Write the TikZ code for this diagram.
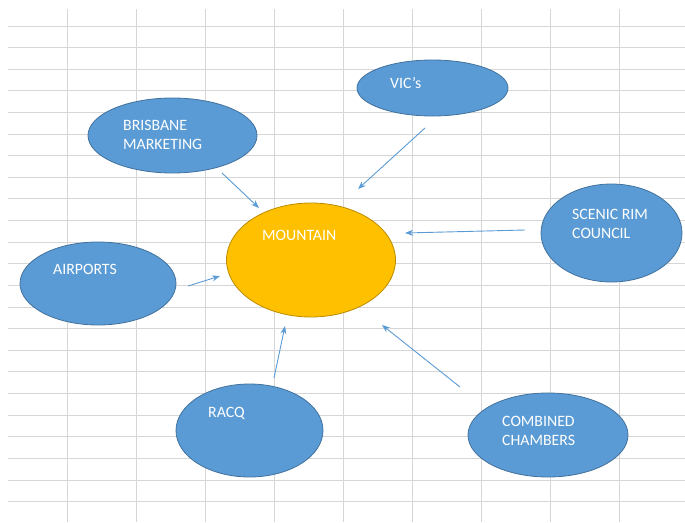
\documentclass[tikz,border=0pt]{standalone}
\usepackage{fontspec}
\setmainfont{Carlito}
\usetikzlibrary{shapes.geometric,arrows.meta}
\definecolor{cellgrid}{HTML}{D6D6D6}
\definecolor{shapeblue}{HTML}{5B9BD5}
\definecolor{shapeedge}{HTML}{41719C}
\definecolor{mtnfill}{HTML}{FFC000}
\definecolor{mtnedge}{HTML}{BC8C00}

\begin{document}
\begin{tikzpicture}[x=1pt, y=-1pt]

% Styles
\tikzset{
    bubble/.style={ellipse, draw=shapeedge, fill=shapeblue, line width=0.8pt, inner sep=0pt},
    hub/.style={bubble, draw=mtnedge, fill=mtnfill},
    tag/.style={anchor=base west, text=white, align=left, inner sep=0pt, font=\fontsize{15.8}{19}\selectfont},
    flow/.style={-{Stealth[length=8pt,width=6pt]}, shapeblue, line width=0.9pt}
}

\useasboundingbox (0,0) rectangle (685,522);

% Sheet grid
\foreach \k in {0,...,22} {
    \draw[cellgrid, line width=1pt] (8,{26+21.62*\k}) -- (685,{26+21.62*\k});
}
\foreach \k in {0,...,8} {
    \draw[cellgrid, line width=1pt] ({67+69*\k},9) -- ({67+69*\k},522);
}

% Centre
\node[hub, minimum width=169pt, minimum height=114pt] (mtn) at (311,260) {};
\node[tag] (mtnT) at (262,240) {MOUNTAIN};

% Partners
\node[bubble, minimum width=169pt, minimum height=75pt] (bm) at (172.5,135.5) {};
\node[tag] (bmT) at (123,149) {BRISBANE\\MARKETING};

\node[bubble, minimum width=151pt, minimum height=56pt] (vic) at (432.5,88) {};
\node[tag] (vicT) at (390,88) {VIC's};

\node[bubble, minimum width=141pt, minimum height=98pt] (src) at (611.5,233) {};
\node[tag] (srcT) at (572,238) {SCENIC RIM\\COUNCIL};

\node[bubble, minimum width=156pt, minimum height=83pt] (air) at (98,283.5) {};
\node[tag] (airT) at (53,274) {AIRPORTS};

\node[bubble, minimum width=147pt, minimum height=93pt] (racq) at (249.5,430.5) {};
\node[tag] (racqT) at (208,417) {RACQ};

\node[bubble, minimum width=160pt, minimum height=84pt] (cc) at (548,435) {};
\node[tag] (ccT) at (502,445) {COMBINED\\CHAMBERS};

% Arrow ends
\coordinate (bmOut) at (222,173);   \coordinate (bmIn) at (259,208);
\coordinate (vicOut) at (425,128);  \coordinate (vicIn) at (358,189);
\coordinate (srcOut) at (525,230);  \coordinate (srcIn) at (405,233);
\coordinate (airOut) at (188,286);  \coordinate (airIn) at (220,276);
\coordinate (racqOut) at (274,378); \coordinate (racqIn) at (285,326);
\coordinate (ccOut) at (460,387);   \coordinate (ccIn) at (382,325);

% Arrows
\foreach \s in {bm,vic,src,air,racq,cc} {
    \draw[flow] (\s Out) -- (\s In);
}

\end{tikzpicture}
\end{document}
